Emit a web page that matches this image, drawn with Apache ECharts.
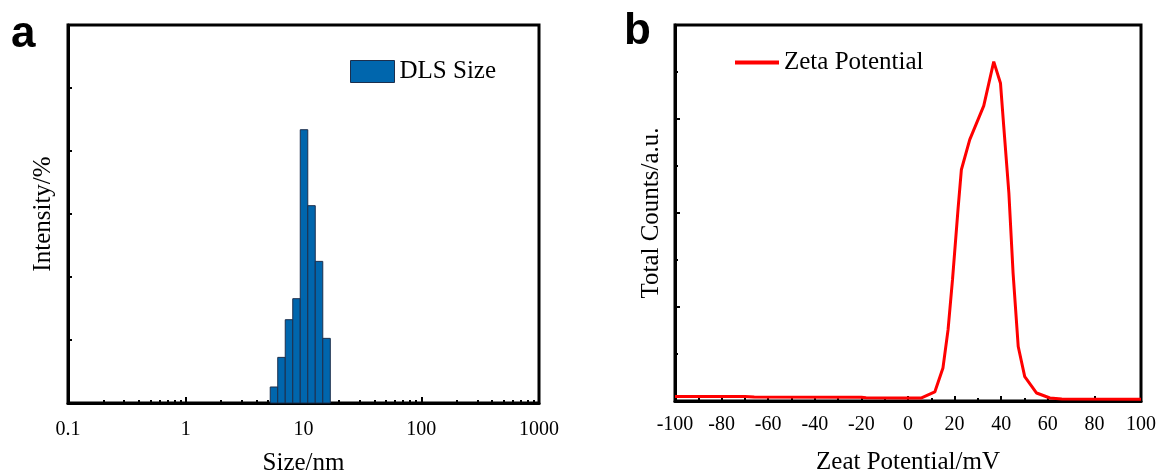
<!DOCTYPE html>
<html><head><meta charset="utf-8">
<script src="https://cdn.jsdelivr.net/npm/echarts@6/dist/echarts.min.js"></script>
<style>html,body{margin:0;padding:0;background:#fff}#c{width:1158px;height:470px}</style>
</head><body><div id="c"></div>
<script>
// ---- Panel a: DLS size distribution (Malvern bin centres, nm) ----
const sizeBinsNm = [5.615, 6.503, 7.531, 8.721, 10.10, 11.70, 13.54, 15.69];
const intensityPct = [1.27, 3.62, 6.61, 8.28, 21.69, 15.66, 11.24, 5.13];
const sizeTickLabels = ['0.1', '1', '10', '100', '1000'];

// ---- Panel b: zeta potential distribution ----
const zetaMv = [-100, -70, -66, -20, -18, 0, 5.8, 11.5, 15.0, 17.2, 19.1, 21.5, 22.9, 26.5, 32.5, 36.8, 39.7, 41.1, 43.3, 45.1, 47.3, 50.1, 55.2, 60.9, 66, 100];
const zetaCounts = [4.9, 4.8, 4.2, 4.0, 3.5, 3.3, 3.3, 9.6, 35.1, 75.9, 129, 205, 246, 278, 314, 361, 338, 292, 221, 136, 58, 26, 8.5, 3.2, 2.1, 1.9];
const zetaTickLabels = ['-100', '-80', '-60', '-40', '-20', '0', '20', '40', '60', '80', '100'];

const SERIF = 'Liberation Serif';

// bin edges = geometric midpoints between neighbouring bin centres
const binData = sizeBinsNm.map((c, i) => {
  const prev = i > 0 ? sizeBinsNm[i - 1] : c * c / sizeBinsNm[i + 1];
  const next = i < sizeBinsNm.length - 1 ? sizeBinsNm[i + 1] : c * c / sizeBinsNm[i - 1];
  return [Math.sqrt(prev * c), Math.sqrt(c * next), intensityPct[i]];
});

const minorLogTicks = [];
for (let d = 0.1; d < 1000; d *= 10) {
  for (let k = 2; k <= 9; k++) minorLogTicks.push(+(k * d).toPrecision(6));
}

const chart = echarts.init(document.getElementById('c'), null, {renderer: 'canvas'});

const tickLabelStyle = {fontFamily: SERIF, fontSize: 20, color: '#000'};
const nameStyle = {fontFamily: SERIF, fontSize: 25, color: '#000'};

chart.setOption({
  animation: false,
  backgroundColor: '#fff',
  grid: [
    {left: 68, top: 25, width: 471, height: 378, show: true, borderColor: '#000', borderWidth: 3, containLabel: false, outerBoundsMode: 'none'},
    {left: 675, top: 25, width: 466, height: 376, show: true, borderColor: '#000', borderWidth: 3, containLabel: false, outerBoundsMode: 'none'}
  ],
  xAxis: [
    {
      type: 'log', gridIndex: 0, logBase: 10, min: 0.1, max: 1000, position: 'bottom',
      axisLine: {show: true, onZero: false, lineStyle: {color: '#000', width: 3}},
      axisTick: {show: true, inside: true, length: 6, lineStyle: {color: '#000', width: 2}},
      axisLabel: Object.assign({margin: 17, formatter: (v) => {
        const i = Math.round(Math.log10(v)) + 1;
        return sizeTickLabels[i] !== undefined ? sizeTickLabels[i] : String(v);
      }}, tickLabelStyle),
      splitLine: {show: false},
      name: 'Size/nm', nameLocation: 'middle', nameGap: 48, nameTextStyle: nameStyle
    },
    {
      type: 'log', gridIndex: 0, logBase: 10, min: 0.1, max: 1000, position: 'bottom', offset: 0,
      axisLine: {show: false, onZero: false},
      axisTick: {show: true, inside: true, length: 3, customValues: minorLogTicks, lineStyle: {color: '#000', width: 2}},
      axisLabel: {show: false},
      splitLine: {show: false}
    },
    {
      type: 'value', gridIndex: 1, min: -100, max: 100, interval: 20, position: 'bottom',
      axisLine: {show: true, onZero: false, lineStyle: {color: '#000', width: 3}},
      axisTick: {show: true, inside: true, length: 5, lineStyle: {color: '#000', width: 2}},
      minorTick: {show: true, splitNumber: 2, length: 3, lineStyle: {color: '#000', width: 2}},
      axisLabel: Object.assign({margin: 14, formatter: (v) => zetaTickLabels[Math.round((v + 100) / 20)]}, tickLabelStyle),
      splitLine: {show: false},
      name: 'Zeat Potential/mV', nameLocation: 'middle', nameGap: 49, nameTextStyle: nameStyle
    }
  ],
  yAxis: [
    {
      type: 'value', gridIndex: 0, min: 0, max: 30, interval: 5, position: 'left',
      axisLine: {show: true, onZero: false, lineStyle: {color: '#000', width: 3}},
      axisTick: {show: true, inside: true, length: 4, lineStyle: {color: '#000', width: 2}},
      axisLabel: {show: false},
      splitLine: {show: false},
      name: 'Intensity/%', nameLocation: 'middle', nameRotate: 90, nameGap: 12, nameTextStyle: nameStyle
    },
    {
      type: 'value', gridIndex: 1, min: 0, max: 400, interval: 100, position: 'left',
      axisLine: {show: true, onZero: false, lineStyle: {color: '#000', width: 3}},
      axisTick: {show: true, inside: true, length: 5, lineStyle: {color: '#000', width: 2}},
      minorTick: {show: true, splitNumber: 2, length: 3, lineStyle: {color: '#000', width: 2}},
      axisLabel: {show: false},
      splitLine: {show: false},
      name: 'Total Counts/a.u.', nameLocation: 'middle', nameRotate: 90, nameGap: 11, nameTextStyle: nameStyle
    }
  ],
  legend: [
    {
      data: [{name: 'DLS Size', icon: 'rect'}], left: 345, top: 54, itemWidth: 44, itemHeight: 22, itemGap: 4,
      itemStyle: {borderColor: '#1c2f4d', borderWidth: 1},
      textStyle: {fontFamily: SERIF, fontSize: 25, color: '#000'}
    },
    {
      data: [{name: 'Zeta Potential', icon: 'rect'}], left: 730, top: 45, itemWidth: 44, itemHeight: 4, itemGap: 4,
      itemStyle: {color: '#ff0000', borderWidth: 0},
      textStyle: {fontFamily: SERIF, fontSize: 25, color: '#000'}
    }
  ],
  series: [
    {
      name: 'DLS Size', type: 'custom', xAxisIndex: 0, yAxisIndex: 0,
      encode: {x: [0, 1], y: 2},
      itemStyle: {color: '#0066ad', borderColor: '#1c2f4d', borderWidth: 1},
      data: binData,
      renderItem: (params, api) => {
        const p0 = api.coord([api.value(0), api.value(2)]);
        const p1 = api.coord([api.value(1), 0]);
        return {
          type: 'rect',
          shape: {x: p0[0], y: p0[1], width: p1[0] - p0[0], height: p1[1] - p0[1]},
          style: {fill: '#0066ad', stroke: '#1c2f4d', lineWidth: 1}
        };
      },
      z: 1
    },
    {
      name: 'Zeta Potential', type: 'line', xAxisIndex: 2, yAxisIndex: 1,
      data: zetaMv.map((x, i) => [x, zetaCounts[i]]),
      symbol: 'none', smooth: false,
      lineStyle: {color: '#ff0000', width: 3},
      itemStyle: {color: '#ff0000'},
      z: 3
    }
  ],
  graphic: [
    {type: 'text', left: 11, top: 13, style: {text: 'a', font: 'bold 44px "Liberation Sans"', fill: '#000'}},
    {type: 'text', left: 624, top: 10, style: {text: 'b', font: 'bold 44px "Liberation Sans"', fill: '#000'}}
  ]
});
</script>
</body></html>
